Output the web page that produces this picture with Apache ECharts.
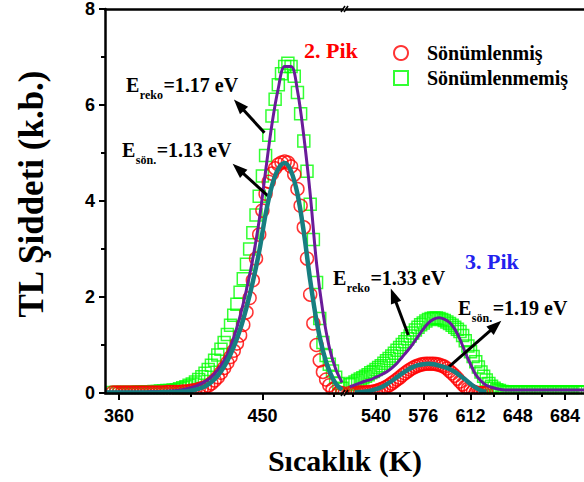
<!DOCTYPE html>
<html>
<head>
<meta charset="utf-8">
<title>TL Şiddeti</title>
<script src="https://cdn.jsdelivr.net/npm/echarts@6.0.0/dist/echarts.min.js"></script>
<style>
  html, body { margin: 0; padding: 0; background: #fff; }
  #chart { width: 584px; height: 482px; }
</style>
</head>
<body>
<div id="chart"></div>
<script>
// ---- Temperatures (K) ----
const tempLeft = [356,358,360,362,364,366,368,370,372,374,376,378,380,382,384,386,388,390,392,394,
  396,398,400,402,404,406,408,410,412,414,416,418,420,422,424,426,428,430,432,434,
  436,438,440,442,444,446,448,450,452,454,456,458,460,462,464,466,468,470,472,474,
  476,478,480,482,484,486,488,490,492,494,496,498,500];
const tempRight = [520,522,524,526,528,530,532,534,536,538,540,542,544,546,548,550,552,554,556,558,
  560,562,564,566,568,570,572,574,576,578,580,582,584,586,588,590,592,594,596,598,
  600,602,604,606,608,610,612,614,616,618,620,622,624,626,628,630,632,634,636,638,
  640,642,644,646,648,650,652,654,656,658,660,662,664,666,668,670,672,674,676,678,
  680,682,684,686,688,690,692,694,696,698];
const tempRightQuenched = [520,522,524,526,528,530,532,534,536,538,540,542,544,546,548,550,552,554,556,558,
  560,562,564,566,568,570,572,574,576,578,580,582,584,586,588,590,592,594,596,598,
  600,602,604,606,608,610,612,614,616,618,620,622,624];
const fitTempLeft = [352,356,360,364,368,372,376,380,384,388,392,396,400,404,408,412,416,420,424,428,
  432,436,440,444,448,452,456,460,464,468,472,476,480,484,488,492,496,500];
const fitTempRight = [520,524,528,532,536,540,544,548,552,556,560,564,568,572,576,580,584,588,592,596,
  600,604,608,612,616,620,624,628,632,636,640,644,648,652,656,660,664,668,672,676,
  680,684,688,692,696,700];
const fitTempRightQuenched = [524,528,532,536,540,544,548,552,556,560,564,568,572,576,580,584,588,592,596,600,
  604,608,612,616,620,624];

// ---- Measured TL intensity (k.b.) ----
// unquenched (Sönümlenmemiş), peak 2
const unquenchedLeft = [0.01,0.01,0.01,0.01,0.01,0.01,0.01,0.01,0.02,0.02,0.02,0.02,0.02,0.03,0.03,0.04,0.04,0.05,0.05,0.06,
  0.07,0.09,0.11,0.13,0.16,0.19,0.23,0.28,0.34,0.41,0.49,0.58,0.68,0.79,0.91,1.05,1.22,1.41,1.62,1.85,
  2.10,2.38,2.68,3.00,3.34,3.71,4.10,4.52,4.95,5.37,5.77,6.12,6.42,6.65,6.80,6.87,6.80,6.60,6.26,5.82,
  5.25,4.62,3.93,3.20,2.30,1.55,1.05,0.78,0.60,0.46,0.33,0.20,0.10];
// unquenched, peak 3
const unquenchedRight = [0.17,0.20,0.23,0.26,0.29,0.32,0.35,0.38,0.42,0.45,0.49,0.53,0.57,0.62,0.67,0.72,0.77,0.83,0.89,0.95,
  1.01,1.07,1.13,1.19,1.25,1.31,1.37,1.42,1.46,1.50,1.53,1.55,1.56,1.56,1.55,1.53,1.51,1.48,1.45,1.41,
  1.37,1.33,1.28,1.20,1.09,0.98,0.86,0.76,0.65,0.54,0.44,0.35,0.27,0.20,0.14,0.10,0.07,0.05,0.03,0.02,
  0.02,0.02,0.02,0.02,0.02,0.02,0.02,0.02,0.02,0.02,0.02,0.02,0.02,0.02,0.02,0.02,0.02,0.02,0.02,0.02,
  0.02,0.02,0.02,0.02,0.02,0.02,0.02,0.02,0.02,0.02];
// quenched (Sönümlenmiş), peak 2
const quenchedLeft = [0.01,0.01,0.01,0.01,0.01,0.01,0.01,0.01,0.01,0.01,0.01,0.01,0.01,0.01,0.01,0.01,0.01,0.02,0.02,0.02,
  0.02,0.02,0.03,0.03,0.04,0.05,0.06,0.08,0.10,0.12,0.15,0.20,0.26,0.33,0.42,0.52,0.63,0.75,0.88,1.03,
  1.20,1.42,1.68,1.98,2.35,2.80,3.30,3.80,4.15,4.40,4.57,4.68,4.76,4.80,4.82,4.80,4.72,4.55,4.25,3.90,
  3.45,2.80,2.05,1.45,1.00,0.68,0.44,0.28,0.16,0.08,0.03,0.01,0.00];
// quenched, peak 3
const quenchedRight = [0.00,0.00,0.00,0.01,0.01,0.01,0.01,0.02,0.02,0.03,0.04,0.06,0.08,0.10,0.13,0.16,0.20,0.24,0.28,0.32,
  0.37,0.41,0.45,0.49,0.52,0.55,0.57,0.59,0.60,0.61,0.61,0.61,0.61,0.60,0.59,0.57,0.55,0.51,0.46,0.41,
  0.36,0.30,0.24,0.18,0.13,0.09,0.05,0.03,0.01,0.00,0.00,0.00,0.00];

// ---- Fitted glow curves ----
const fitUnquenchedLeft = [0.02,0.02,0.02,0.02,0.02,0.02,0.02,0.03,0.03,0.03,0.04,0.05,0.07,0.10,0.14,0.20,0.28,0.40,0.57,0.80,
  1.15,1.60,2.15,2.80,3.60,4.62,5.60,6.35,6.80,6.80,6.30,5.35,4.15,2.70,1.68,0.95,0.50,0.22];
const fitUnquenchedRight = [0.13,0.17,0.21,0.25,0.28,0.33,0.38,0.44,0.52,0.62,0.75,0.88,1.02,1.18,1.33,1.46,1.54,1.57,1.54,1.47,
  1.33,1.12,0.84,0.60,0.38,0.25,0.16,0.12,0.09,0.07,0.06,0.06,0.06,0.06,0.06,0.06,0.06,0.06,0.06,0.06,
  0.06,0.06,0.06,0.06,0.06,0.06];
const fitQuenchedLeft = [0.01,0.01,0.01,0.01,0.01,0.01,0.01,0.01,0.01,0.02,0.02,0.02,0.03,0.04,0.07,0.11,0.18,0.29,0.45,0.67,
  0.96,1.32,1.78,2.32,2.95,3.72,4.32,4.67,4.79,4.62,4.15,3.35,2.35,1.50,0.88,0.46,0.20,0.07];
const fitQuenchedRight = [0.01,0.02,0.03,0.05,0.08,0.12,0.18,0.25,0.33,0.41,0.48,0.54,0.58,0.60,0.61,0.60,0.57,0.54,0.50,0.44,
  0.36,0.28,0.19,0.11,0.05,0.02];

// ---- Axis ticks ----
const yTicks = [0, 2, 4, 6, 8];
const xLabelsLeft = [360, 450];
const xMinorLeft = [405, 495];
const xLabelsRight = [540, 576, 612, 648, 684];
const xMinorRight = [522, 558, 594, 630, 666];

// ---- Annotations ----
const activationLabels = [
  { sub: 'reko', value: '=1.17 eV' },
  { sub: 'sön.', value: '=1.13 eV' },
  { sub: 'reko', value: '=1.33 eV' },
  { sub: 'sön.', value: '=1.19 eV' }
];
// arrow tails and heads in data units [K, k.b.]
const arrowsLeft = [
  [[451.3, 5.42], [435.3, 6.00]],
  [[454.0, 4.09], [434.8, 4.67]]
];
const arrowsRight = [
  [[564.6, 1.21], [553.3, 2.03]],
  [[595.1, 0.535], [631.2, 1.40]]
];

const SERIF = "'Liberation Serif', 'Times New Roman', serif";
const SANS = "'Liberation Sans', Arial, sans-serif";
const RED = '#ff0000';
const GREEN = '#00ff00';
const PURPLE = '#6a1b9a';
const TEAL = '#177e80';

const zip = (xs, ys) => xs.map((x, i) => [x, ys[i]]);

const measureCtx = document.createElement('canvas').getContext('2d');
function textWidth(text, size) {
  measureCtx.font = 'bold ' + size + 'px ' + SERIF;
  return measureCtx.measureText(text).width;
}

function bottomAxis(grid, min, max, labels) {
  return {
    type: 'value', gridIndex: grid, min: min, max: max, position: 'bottom', z: 10,
    axisLine: { show: true, onZero: false, lineStyle: { color: '#000', width: 2.5 } },
    axisTick: { show: true, customValues: labels, length: 7, lineStyle: { color: '#000', width: 2 } },
    axisLabel: { show: true, customValues: labels, margin: 14, color: '#000',
      fontFamily: SANS, fontWeight: 'bold', fontSize: 18 },
    splitLine: { show: false }
  };
}
function minorAxis(grid, min, max, ticks) {
  return {
    type: 'value', gridIndex: grid, min: min, max: max, position: 'bottom', z: 10,
    axisLine: { show: false, onZero: false },
    axisTick: { show: true, customValues: ticks, length: 4, lineStyle: { color: '#000', width: 2 } },
    axisLabel: { show: false },
    splitLine: { show: false }
  };
}
function topAxis(grid, min, max) {
  return {
    type: 'value', gridIndex: grid, min: min, max: max, position: 'top', z: 10,
    axisLine: { show: true, onZero: false, lineStyle: { color: '#000', width: 2.5 } },
    axisTick: { show: false }, axisLabel: { show: false }, splitLine: { show: false }
  };
}

// "E" + subscript + value, placed with its E centred at (x, y)
function energyText(x, y, item) {
  const eW = textWidth('E', 20);
  const sW = textWidth(item.sub, 12);
  const base = { fontFamily: SERIF, fontWeight: 'bold', fill: '#000', align: 'left', verticalAlign: 'middle' };
  return {
    type: 'group', x: x, y: y, z: 20,
    children: [
      { type: 'text', z: 20, x: 0, y: 0, style: Object.assign({ text: 'E', fontSize: 20 }, base) },
      { type: 'text', z: 20, x: eW + 0.5, y: 10, style: Object.assign({ text: item.sub, fontSize: 12 }, base) },
      { type: 'text', z: 20, x: eW + sW + 1, y: 0, style: Object.assign({ text: item.value, fontSize: 20 }, base) }
    ]
  };
}

function arrowMarks(list) {
  return {
    silent: true, animation: false,
    symbol: ['none', 'triangle'], symbolSize: [11, 15],
    label: { show: false },
    lineStyle: { color: '#000', width: 3, type: 'solid' },
    itemStyle: { color: '#000' },
    emphasis: { disabled: true },
    data: list.map(a => [{ coord: a[0] }, { coord: a[1] }])
  };
}

const LEFT_MIN = 351.2, LEFT_MAX = 500.6;
const RIGHT_MIN = 517.14, RIGHT_MAX = 698.47;

const chart = echarts.init(document.getElementById('chart'), null, { renderer: 'svg' });

const markerUnq = { color: 'transparent', borderColor: GREEN, borderWidth: 1.5 };
const markerQ = { color: 'transparent', borderColor: RED, borderWidth: 1.5 };

chart.setOption({
  animation: false,
  backgroundColor: '#fff',
  grid: [
    { left: 105, top: 9, width: 238, bottom: 89, containLabel: false },
    { left: 346, top: 9, width: 238, bottom: 89, containLabel: false }
  ],
  xAxis: [
    bottomAxis(0, LEFT_MIN, LEFT_MAX, xLabelsLeft),
    minorAxis(0, LEFT_MIN, LEFT_MAX, xMinorLeft),
    topAxis(0, LEFT_MIN, LEFT_MAX),
    bottomAxis(1, RIGHT_MIN, RIGHT_MAX, xLabelsRight),
    minorAxis(1, RIGHT_MIN, RIGHT_MAX, xMinorRight),
    topAxis(1, RIGHT_MIN, RIGHT_MAX)
  ],
  yAxis: [
    {
      type: 'value', gridIndex: 0, min: 0, max: 8, interval: 2, z: 10,
      axisLine: { show: true, onZero: false, lineStyle: { color: '#000', width: 2.5 } },
      axisTick: { show: true, length: 6, lineStyle: { color: '#000', width: 2 } },
      minorTick: { show: true, splitNumber: 2, length: 4, lineStyle: { color: '#000', width: 2 } },
      axisLabel: { margin: 10, color: '#000', fontFamily: SANS, fontWeight: 'bold', fontSize: 18,
        customValues: yTicks },
      splitLine: { show: false }
    },
    { type: 'value', gridIndex: 1, min: 0, max: 8, show: false }
  ],
  legend: {
    orient: 'vertical', left: 388, top: 38,
    itemWidth: 14, itemHeight: 14, itemGap: 5,
    textStyle: { fontFamily: SERIF, fontWeight: 'bold', fontSize: 20, lineHeight: 20, color: '#000',
      padding: [0, 0, 0, 14] },
    data: [
      { name: 'Sönümlenmiş', icon: 'circle', itemStyle: { color: 'transparent', borderColor: RED, borderWidth: 2 } },
      { name: 'Sönümlenmemiş', icon: 'rect', itemStyle: { color: 'transparent', borderColor: GREEN, borderWidth: 2 } }
    ]
  },
  series: [
    { name: 'Sönümlenmemiş', type: 'scatter', xAxisIndex: 0, yAxisIndex: 0, z: 2,
      symbol: 'rect', symbolSize: 12, itemStyle: markerUnq, data: zip(tempLeft, unquenchedLeft) },
    { name: 'Sönümlenmemiş', type: 'scatter', xAxisIndex: 3, yAxisIndex: 1, z: 2,
      symbol: 'rect', symbolSize: 12, itemStyle: markerUnq, data: zip(tempRight, unquenchedRight) },
    { name: 'Sönümlenmiş', type: 'scatter', xAxisIndex: 0, yAxisIndex: 0, z: 3,
      symbol: 'circle', symbolSize: 13, itemStyle: markerQ, data: zip(tempLeft, quenchedLeft) },
    { name: 'Sönümlenmiş', type: 'scatter', xAxisIndex: 3, yAxisIndex: 1, z: 3,
      symbol: 'circle', symbolSize: 13, itemStyle: markerQ, data: zip(tempRightQuenched, quenchedRight) },
    { name: 'fit-unquenched-2', type: 'line', xAxisIndex: 0, yAxisIndex: 0, z: 4, smooth: 0.35,
      showSymbol: false, symbol: 'none', lineStyle: { color: PURPLE, width: 3 },
      data: zip(fitTempLeft, fitUnquenchedLeft), markLine: arrowMarks(arrowsLeft) },
    { name: 'fit-unquenched-3', type: 'line', xAxisIndex: 3, yAxisIndex: 1, z: 4, smooth: 0.35,
      showSymbol: false, symbol: 'none', lineStyle: { color: PURPLE, width: 3 },
      data: zip(fitTempRight, fitUnquenchedRight), markLine: arrowMarks(arrowsRight) },
    { name: 'fit-quenched-2', type: 'line', xAxisIndex: 0, yAxisIndex: 0, z: 5, smooth: 0.35,
      showSymbol: false, symbol: 'none', lineStyle: { color: TEAL, width: 4.5 },
      data: zip(fitTempLeft, fitQuenchedLeft) },
    { name: 'fit-quenched-3', type: 'line', xAxisIndex: 3, yAxisIndex: 1, z: 5, smooth: 0.35,
      showSymbol: false, symbol: 'none', lineStyle: { color: TEAL, width: 4.5 },
      data: zip(fitTempRightQuenched, fitQuenchedRight) }
  ],
  graphic: [
    // keep markers inside the frame
    { type: 'rect', z: 6, silent: true, shape: { x: 0, y: 394.5, width: 584, height: 10 }, style: { fill: '#fff' } },
    { type: 'rect', z: 6, silent: true, shape: { x: 0, y: 0, width: 103.8, height: 404 }, style: { fill: '#fff' } },
    // axis break marks
    { type: 'line', z: 20, silent: true, shape: { x1: 341, y1: 12, x2: 345, y2: 6 }, style: { stroke: '#000', lineWidth: 1.5 } },
    { type: 'line', z: 20, silent: true, shape: { x1: 344, y1: 12, x2: 348, y2: 6 }, style: { stroke: '#000', lineWidth: 1.5 } },
    { type: 'line', z: 20, silent: true, shape: { x1: 341, y1: 396, x2: 345, y2: 390 }, style: { stroke: '#000', lineWidth: 1.5 } },
    { type: 'line', z: 20, silent: true, shape: { x1: 344, y1: 396, x2: 348, y2: 390 }, style: { stroke: '#000', lineWidth: 1.5 } },
    // axis titles
    { type: 'text', z: 20, x: 345, y: 460,
      style: { text: 'Sıcaklık (K)', align: 'center', verticalAlign: 'middle', fill: '#000',
        fontFamily: SERIF, fontWeight: 'bold', fontSize: 30 } },
    { type: 'text', z: 20, x: 31, y: 194, rotation: Math.PI / 2,
      style: { text: 'TL Şiddeti (k.b.)', align: 'center', verticalAlign: 'middle', fill: '#000',
        fontFamily: SERIF, fontWeight: 'bold', fontSize: 35 } },
    // peak names
    { type: 'text', z: 20, x: 304, y: 50,
      style: { text: '2. Pik', align: 'left', verticalAlign: 'middle', fill: '#ff0000',
        fontFamily: SERIF, fontWeight: 'bold', fontSize: 22 } },
    { type: 'text', z: 20, x: 465, y: 261,
      style: { text: '3. Pik', align: 'left', verticalAlign: 'middle', fill: '#2222ee',
        fontFamily: SERIF, fontWeight: 'bold', fontSize: 22 } },
    // activation energies
    energyText(126, 85, activationLabels[0]),
    energyText(122, 150, activationLabels[1]),
    energyText(333, 278, activationLabels[2]),
    energyText(458, 308, activationLabels[3])
  ]
});
</script>
</body>
</html>
